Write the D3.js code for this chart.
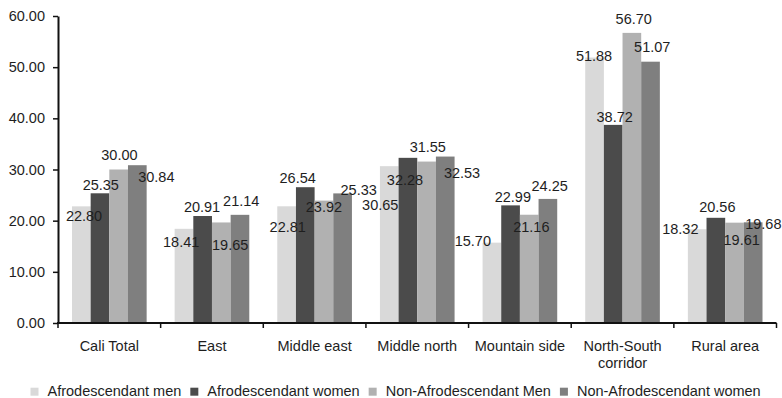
<!DOCTYPE html>
<html>
<head>
<meta charset="utf-8">
<script src="https://cdn.jsdelivr.net/npm/d3@7/dist/d3.min.js"></script>
<style>
  html, body { margin: 0; padding: 0; background: #fff; }
  svg { display: block; font-family: "Liberation Sans", Arial, Helvetica, sans-serif; }
  text { fill: #1e1e1e; }
</style>
</head>
<body>
<svg id="chart" width="782" height="398"></svg>
<script>
// Districts of Cali and the four population groups
const categories = ["Cali Total", "East", "Middle east", "Middle north", "Mountain side", "North-South corridor", "Rural area"];
const seriesNames = ["Afrodescendant men", "Afrodescendant women", "Non-Afrodescendant Men", "Non-Afrodescendant women"];

const afroMen       = [22.80, 18.41, 22.81, 30.65, 15.70, 51.88, 18.32];
const afroWomen     = [25.35, 20.91, 26.54, 32.28, 22.99, 38.72, 20.56];
const nonAfroMen    = [30.00, 19.65, 23.92, 31.55, 21.16, 56.70, 19.61];
const nonAfroWomen  = [30.84, 21.14, 25.33, 32.53, 24.25, 51.07, 19.68];

const yTicks = [0, 10, 20, 30, 40, 50, 60];

// Hand-placed value labels (offset of label centre from bar top-centre, px)
const labelNudge = [
  [[2.7, 9], [0.8, -8.6], [0.8, -14.2], [19, 11.8]],
  [[-2.8, 12.9], [-0.6, -9], [8.9, 22.2], [1.3, -14.5]],
  [[1.1, 20.7], [-7.6, -9.2], [0, 6.4], [16.1, -3.7]],
  [[-9, 39.1], [-2.9, 22.2], [1.2, -14.6], [16.8, 16.7]],
  [[-19.1, -1.4], [2.3, -8.4], [2.1, 12.3], [1.8, -13.6]],
  [[-0.5, -1.5], [1.5, -7.9], [1.9, -14.2], [1.7, -14.7]],
  [[-16.9, -0.6], [1.5, -10.8], [7.2, 17.6], [10.2, 1.4]]
];

const series = [afroMen, afroWomen, nonAfroMen, nonAfroWomen];
const colors = ["#d9d9d9", "#4b4b4b", "#b1b1b1", "#7f7f7f"];

const svg = d3.select("#chart");
const margin = { left: 58, right: 5.5, top: 16, bottom: 75 };
const W = 782, H = 398;
const plotBottom = 323;

const x = d3.scaleBand()
  .domain(categories)
  .range([margin.left, W - margin.right])
  .paddingInner(0)
  .paddingOuter(0);

const groupPad = x.bandwidth() * 14 / 102.64;
const xs = d3.scaleBand()
  .domain(d3.range(series.length))
  .range([groupPad, x.bandwidth() - groupPad])
  .padding(0);

const y = d3.scaleLinear().domain([0, 60]).range([plotBottom, margin.top]);

const fontSize = 14.5;

// Bars
const groups = svg.append("g").selectAll("g")
  .data(categories)
  .join("g")
  .attr("transform", d => `translate(${x(d)},0)`);

groups.selectAll("rect")
  .data((d, i) => series.map((s, j) => ({ v: s[i], j })))
  .join("rect")
  .attr("x", d => xs(d.j))
  .attr("width", xs.bandwidth())
  .attr("y", d => y(d.v))
  .attr("height", d => plotBottom - y(d.v))
  .attr("fill", d => colors[d.j]);

// Y axis
const yAxis = d3.axisLeft(y)
  .tickValues(yTicks)
  .tickFormat(d3.format(".2f"))
  .tickSize(5)
  .tickSizeOuter(0)
  .tickPadding(8);

const gy = svg.append("g")
  .attr("transform", `translate(${margin.left},0)`)
  .call(yAxis);
gy.select(".domain").attr("stroke", "#111").attr("stroke-width", 2);
gy.selectAll(".tick line").attr("stroke", "#111").attr("stroke-width", 1.5);
gy.selectAll(".tick text")
  .attr("font-size", fontSize)
  .attr("font-family", "Liberation Sans, Arial, sans-serif")
  .attr("fill", "#1e1e1e");

// X axis line and category boundary ticks
const gx = svg.append("g");
gx.append("line")
  .attr("x1", margin.left - 1).attr("x2", W - margin.right)
  .attr("y1", plotBottom).attr("y2", plotBottom)
  .attr("stroke", "#111").attr("stroke-width", 2);

const bounds = categories.map(c => x(c)).concat([x(categories[categories.length - 1]) + x.bandwidth()]);
gx.selectAll("line.bt")
  .data(bounds)
  .join("line")
  .attr("class", "bt")
  .attr("x1", d => d).attr("x2", d => d)
  .attr("y1", plotBottom).attr("y2", plotBottom + 5)
  .attr("stroke", "#111").attr("stroke-width", 1.5);

// Category labels (wrapping the long one)
const catLines = c => c === "North-South corridor" ? ["North-South", "corridor"] : [c];
const catText = svg.append("g").selectAll("text")
  .data(categories)
  .join("text")
  .attr("x", d => x(d) + x.bandwidth() / 2)
  .attr("y", 350.7)
  .attr("text-anchor", "middle")
  .attr("font-size", fontSize);
catText.selectAll("tspan")
  .data(d => catLines(d).map((t, k) => ({ t, k, cx: x(d) + x.bandwidth() / 2 })))
  .join("tspan")
  .attr("x", d => d.cx)
  .attr("dy", d => d.k === 0 ? 0 : 17)
  .text(d => d.t);

// Value labels
const capHalf = 0.716 * fontSize / 2;
groups.selectAll("text.val")
  .data((d, i) => series.map((s, j) => ({ v: s[i], j, n: labelNudge[i][j] })))
  .join("text")
  .attr("class", "val")
  .attr("text-anchor", "middle")
  .attr("font-size", fontSize)
  .attr("x", d => xs(d.j) + xs.bandwidth() / 2 + d.n[0])
  .attr("y", d => y(d.v) + d.n[1] + capHalf)
  .text(d => d3.format(".2f")(d.v));

// Legend
const legend = svg.append("g");
const sw = 8, gapIn = 9, gapOut = 9;
const items = legend.selectAll("g")
  .data(seriesNames)
  .join("g");
items.append("rect")
  .attr("width", sw).attr("height", sw)
  .attr("y", 387.7)
  .attr("fill", (d, i) => colors[i]);
items.append("text")
  .attr("font-size", fontSize)
  .attr("y", 396)
  .text(d => d);

let widths = [];
items.select("text").each(function () { widths.push(this.getComputedTextLength()); });
const total = d3.sum(widths) + seriesNames.length * (sw + gapIn) + (seriesNames.length - 1) * gapOut;
let cursor = 395.6 - total / 2;
items.each(function (d, i) {
  const g = d3.select(this);
  g.select("rect").attr("x", cursor);
  g.select("text").attr("x", cursor + sw + gapIn);
  cursor += sw + gapIn + widths[i] + gapOut;
});
</script>
</body>
</html>
